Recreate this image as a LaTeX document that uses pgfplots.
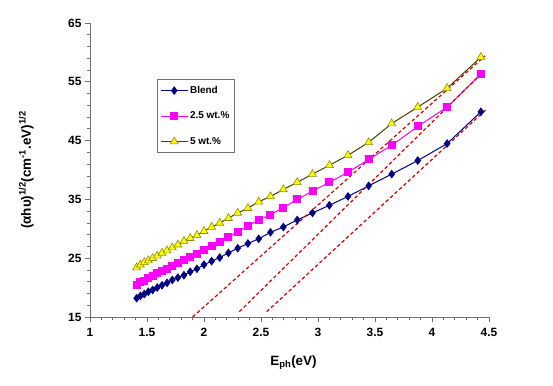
\documentclass[border=0pt]{standalone}
\usepackage{fontspec}
\setmainfont{Liberation Sans}
\usepackage{pgfplots}
\pgfplotsset{compat=1.18}
\definecolor{navyb}{HTML}{000080}
\definecolor{magp}{HTML}{FF00FF}
\definecolor{yelf}{HTML}{FFFF00}
\definecolor{olivl}{HTML}{3F3F00}
\definecolor{olive2}{HTML}{8C8C00}
\definecolor{dred}{HTML}{CC0000}
\definecolor{axgray}{HTML}{707070}
\begin{document}
\begin{tikzpicture}
\path (-90bp,-69bp) rectangle (463bp,317bp);
\begin{axis}[
  scale only axis, width=399bp, height=294bp,
  xmin=1, xmax=4.5, ymin=15, ymax=65,
  xtick={1,1.5,...,4.5}, ytick={15,25,...,65},
  minor x tick num=4, minor y tick num=4,
  axis x line*=bottom, axis y line*=left,
  axis line style={axgray, line width=0.8pt, -},
  tick style={axgray, line width=0.7pt},
  tick align=outside,
  major tick length=5bp, minor tick length=3bp,
  /pgf/number format/assume math mode=true,
  ticklabel style={font=\fontsize{12}{13}\selectfont\bfseries},
  xticklabel style={yshift=-3bp},
  xticklabels={1,1.5,2,2.5,3,3.5,4,4.5},
  yticklabels={15,25,35,45,55,65},
  xlabel={E\textsubscript{ph}(eV)},
  ylabel={(αhυ)\textsuperscript{1/2}(cm\textsuperscript{-1}.eV)\textsuperscript{1/2}},
  label style={font=\fontsize{13.5}{15}\selectfont\bfseries},
  xlabel style={at={(axis description cs:0.51,-0.156)}, anchor=center},
  ylabel style={at={(axis description cs:-0.16,0.5)}, anchor=center},
  clip=false,
  legend style={at={(axis description cs:0.168,0.81)}, anchor=north west,
    draw=axgray, line width=0.8pt, font=\fontsize{10}{11}\selectfont\bfseries,
    row sep=13bp, inner xsep=3bp, inner ysep=5bp},
  legend cell align=left,
  legend image code/.code={
    \draw[#1, mark repeat=2, mark phase=2] plot coordinates {(0cm,0cm) (0.47cm,0cm) (0.94cm,0cm)};
  },
]
\addplot[navyb, line width=1pt, mark=diamond*, mark size=3.6bp, mark options={fill=navyb, draw=navyb}] coordinates {
(1.409,18.2) (1.442,18.6) (1.476,18.9) (1.512,19.3) (1.550,19.6) (1.590,20.0)
(1.632,20.4) (1.676,20.8) (1.722,21.3) (1.771,21.7) (1.824,22.1) (1.879,22.7)
(1.938,23.2) (2.000,23.9) (2.067,24.5) (2.138,25.1) (2.214,25.9) (2.296,26.7)
(2.385,27.5) (2.480,28.3) (2.583,29.4) (2.696,30.3) (2.818,31.5) (2.952,32.7)
(3.100,34.0) (3.263,35.5) (3.444,37.3) (3.647,39.3) (3.875,41.6) (4.133,44.5)
(4.429,49.9)};
\addlegendentry{Blend}
\addplot[magp, line width=1pt, mark=square*, mark size=3.5bp, mark options={fill=magp, draw=magp}] coordinates {
(1.409,20.5) (1.442,20.9) (1.476,21.2) (1.512,21.6) (1.550,22.0) (1.590,22.4)
(1.632,22.8) (1.676,23.2) (1.722,23.7) (1.771,24.2) (1.824,24.7) (1.879,25.2)
(1.938,25.7) (2.000,26.4) (2.067,27.1) (2.138,27.8) (2.214,28.6) (2.296,29.5)
(2.385,30.5) (2.480,31.5) (2.583,32.4) (2.696,33.6) (2.818,35.0) (2.952,36.4)
(3.100,37.9) (3.263,39.6) (3.444,41.8) (3.647,44.2) (3.875,47.4) (4.133,50.7)
(4.429,56.3)};
\addlegendentry{2.5 wt.\%}
\addplot[olivl, line width=1pt, mark=triangle*, mark size=4.6bp, mark options={fill=yelf, draw=olive2, line width=0.6pt}] coordinates {
(1.409,23.4) (1.442,23.9) (1.476,24.3) (1.512,24.6) (1.550,25.0) (1.590,25.4)
(1.632,25.9) (1.676,26.3) (1.722,26.8) (1.771,27.3) (1.824,27.9) (1.879,28.4)
(1.938,28.9) (2.000,29.6) (2.067,30.3) (2.138,31.0) (2.214,31.8) (2.296,32.7)
(2.385,33.5) (2.480,34.6) (2.583,35.5) (2.696,36.7) (2.818,37.9) (2.952,39.3)
(3.100,40.8) (3.263,42.5) (3.444,44.7) (3.647,47.9) (3.875,50.7) (4.133,53.9)
(4.429,59.2)};
\addlegendentry{5 wt.\%}
\addplot[dred, line width=1.2pt, dash pattern=on 3.5bp off 2.5bp, forget plot] coordinates {(1.90,15.0) (4.465,59.4)};
\addplot[dred, line width=1.2pt, dash pattern=on 3.5bp off 2.5bp, forget plot] coordinates {(2.31,15.9) (4.45,56.7)};
\addplot[dred, line width=1.2pt, dash pattern=on 3.5bp off 2.5bp, forget plot] coordinates {(2.55,15.9) (4.47,50.2)};
\end{axis}
\end{tikzpicture}
\end{document}
